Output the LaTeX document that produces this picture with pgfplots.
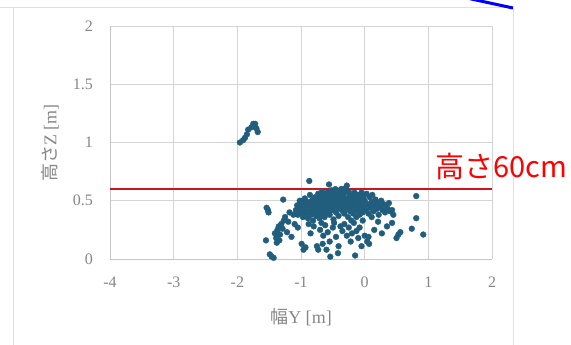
\documentclass[border=0pt]{standalone}
\usepackage{pgfplots}
\pgfplotsset{compat=1.18}
\usepackage{fontspec}
\setmainfont{Liberation Serif}
\newfontfamily\cjk{Noto Sans CJK JP}
\definecolor{pt}{RGB}{33,94,126}
\definecolor{txt}{RGB}{135,135,135}
\definecolor{gridc}{RGB}{212,212,212}
\definecolor{redl}{RGB}{205,20,30}
\pgfplotstableread{
x y
-1.96 1.00
-1.91 1.02
-1.88 1.04
-1.85 1.07
-1.83 1.11
-1.78 1.13
-1.75 1.16
-1.72 1.16
-1.70 1.12
-1.68 1.09
-1.74 1.14
-1.54 0.44
-1.52 0.42
-1.51 0.40
-1.55 0.16
-1.49 0.04
-1.46 0.02
-1.43 0.01
-1.41 0.22
-1.39 0.18
-1.37 0.25
-1.35 0.28
-1.33 0.21
-1.31 0.30
-1.29 0.26
-1.27 0.33
-1.25 0.36
-1.38 0.14
-1.34 0.16
-1.28 0.51
-1.20 0.32
-1.22 0.23
-1.15 0.19
-1.18 0.40
-1.12 0.38
-1.10 0.30
-1.08 0.42
-1.06 0.46
-1.05 0.38
-1.03 0.44
-1.02 0.50
-1.00 0.40
-0.98 0.47
-0.97 0.36
-0.95 0.43
-0.94 0.52
-0.93 0.39
-0.92 0.45
-0.90 0.49
-0.89 0.35
-0.88 0.42
-0.87 0.67
-0.86 0.55
-0.85 0.46
-0.84 0.38
-0.83 0.50
-0.82 0.43
-0.81 0.33
-0.80 0.48
-0.79 0.40
-0.78 0.53
-0.77 0.45
-0.76 0.37
-0.75 0.50
-0.74 0.42
-0.73 0.56
-0.72 0.47
-0.71 0.35
-0.70 0.44
-0.69 0.52
-0.68 0.39
-0.67 0.58
-0.66 0.48
-0.65 0.42
-0.64 0.55
-0.63 0.36
-0.62 0.46
-0.61 0.51
-0.60 0.40
-0.59 0.57
-0.58 0.44
-0.57 0.49
-0.56 0.64
-0.55 0.38
-0.54 0.53
-0.53 0.46
-0.52 0.59
-0.51 0.42
-0.50 0.50
-0.49 0.34
-0.48 0.55
-0.47 0.45
-0.46 0.60
-0.45 0.40
-0.44 0.52
-0.43 0.48
-0.42 0.57
-0.41 0.37
-0.40 0.44
-0.39 0.54
-0.38 0.49
-0.37 0.60
-0.36 0.42
-0.35 0.51
-0.34 0.46
-0.33 0.56
-0.32 0.39
-0.31 0.48
-0.30 0.58
-0.29 0.43
-0.28 0.63
-0.27 0.52
-0.26 0.36
-0.25 0.47
-0.24 0.55
-0.23 0.41
-0.22 0.50
-0.21 0.33
-0.20 0.45
-0.19 0.53
-0.18 0.39
-0.17 0.48
-0.16 0.57
-0.15 0.43
-0.14 0.51
-0.13 0.36
-0.12 0.46
-0.11 0.55
-0.10 0.41
-0.09 0.49
-0.08 0.38
-0.07 0.52
-0.06 0.44
-0.05 0.57
-0.04 0.47
-0.03 0.40
-0.02 0.53
-0.01 0.45
0.00 0.50
0.02 0.42
0.03 0.56
0.05 0.47
0.06 0.39
0.08 0.53
0.09 0.44
0.11 0.49
0.12 0.55
0.14 0.41
0.15 0.46
0.17 0.51
0.19 0.43
0.20 0.48
0.22 0.38
0.24 0.45
0.26 0.50
0.28 0.42
0.30 0.47
0.32 0.40
0.34 0.45
0.36 0.43
0.38 0.48
0.40 0.41
0.43 0.42
0.45 0.38
-1.00 0.45
-0.96 0.41
-0.91 0.48
-0.88 0.46
-0.86 0.40
-0.83 0.45
-0.80 0.42
-0.78 0.47
-0.75 0.44
-0.72 0.41
-0.70 0.49
-0.68 0.45
-0.65 0.47
-0.63 0.50
-0.60 0.45
-0.58 0.52
-0.55 0.47
-0.53 0.42
-0.50 0.45
-0.48 0.50
-0.45 0.47
-0.42 0.44
-0.40 0.50
-0.37 0.45
-0.35 0.55
-0.32 0.52
-0.30 0.46
-0.27 0.44
-0.25 0.58
-0.22 0.54
-0.18 0.46
-0.15 0.50
-0.92 0.41
-0.84 0.49
-0.76 0.52
-0.68 0.50
-0.62 0.54
-0.57 0.56
-0.52 0.52
-0.47 0.57
-0.43 0.53
-0.38 0.57
-0.33 0.60
-0.29 0.50
-0.55 0.56
-0.66 0.55
-0.73 0.50
-0.81 0.51
-0.97 0.50
-1.05 0.27
-0.99 0.13
-0.96 0.08
-0.93 0.10
-0.88 0.30
-0.85 0.22
-0.80 0.28
-0.75 0.11
-0.73 0.08
-0.70 0.25
-0.68 0.31
-0.65 0.20
-0.62 0.29
-0.58 0.23
-0.55 0.15
-0.54 0.02
-0.50 0.27
-0.48 0.31
-0.45 0.19
-0.41 0.11
-0.42 0.05
-0.38 0.28
-0.35 0.24
-0.32 0.30
-0.28 0.20
-0.25 0.27
-0.22 0.15
-0.20 0.22
-0.17 0.31
-0.15 0.03
-0.13 0.24
-0.10 0.18
-0.08 0.27
-0.05 0.11
-0.03 0.33
0.00 0.20
0.04 0.15
0.06 0.19
0.07 0.13
0.11 0.36
0.15 0.25
0.21 0.32
0.27 0.22
0.35 0.28
0.43 0.31
0.50 0.18
0.53 0.21
0.56 0.23
0.74 0.26
0.81 0.54
0.81 0.35
0.92 0.21
-0.60 0.08
-0.66 0.13
}\pts
\begin{document}
\begin{tikzpicture}[x=1bp,y=1bp]
\path[use as bounding box] (0,0) rectangle (571,344);
\clip (0,0) rectangle (571,344);
\fill[white] (0,0) rectangle (571,344);
\draw[gray!25, line width=1bp] (0,336) -- (513,336);
\draw[gray!25, line width=1bp] (13,336) -- (13,-2);
\draw[gray!25, line width=1bp] (513,336) -- (513,-2);
\draw[blue, line width=3bp] (450,349.6) -- (513,336);
\begin{axis}[
  at={(110bp,85bp)}, anchor=south west,
  scale only axis, width=382bp, height=233bp,
  xmin=-4, xmax=2, ymin=0, ymax=2,
  xtick={-4,-3,-2,-1,0,1,2},
  xticklabels={-4,-3,-2,-1,0,1,2},
  ytick={0,0.5,1,1.5,2},
  yticklabels={0,0.5,1,1.5,2},
  grid=major,
  major grid style={gridc, line width=0.8bp},
  axis line style={draw=none},
  tick style={draw=none},
  ticklabel style={font=\fontsize{16bp}{16bp}\selectfont, text=txt, inner sep=0pt},
  xticklabel style={anchor=center, yshift=-23bp},
  yticklabel style={anchor=east, xshift=-17bp},
  clip=false,
]
\addplot[gray!45, line width=0.8bp, forget plot] coordinates {(-4,0) (2,0)};
\addplot[gray!45, line width=0.8bp, forget plot] coordinates {(-4,0) (-4,2)};
\addplot[only marks, mark=*, mark size=2.9bp, color=pt, mark options={draw=pt, fill=pt}] table[x=x, y=y] {\pts};
\addplot[redl, line width=2bp] coordinates {(-4,0.6) (2,0.6)};
\end{axis}
\node[text=txt, font=\fontsize{18bp}{18bp}\selectfont] at (301,27) {{\cjk 幅}Y [m]};
\node[text=txt, rotate=90, font=\fontsize{18bp}{18bp}\selectfont] at (50,201) {{\cjk 高さ}Z [m]};
\node[text=red, font=\fontsize{29bp}{29bp}\selectfont\cjk, inner sep=0pt] at (501.5,178) {高さ60cm};
\end{tikzpicture}
\end{document}
